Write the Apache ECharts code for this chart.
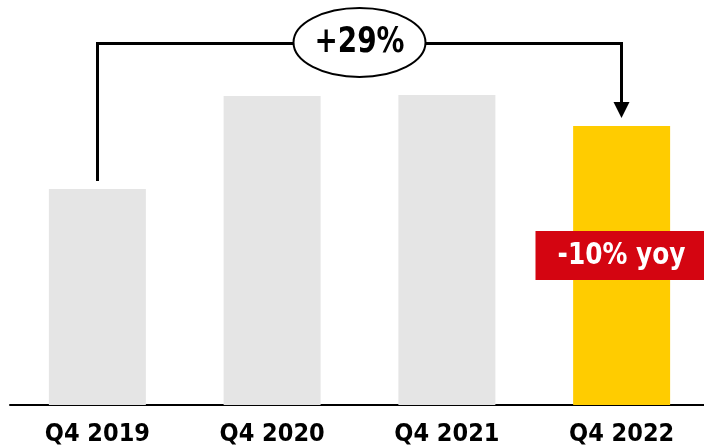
<!DOCTYPE html>
<html><head><meta charset="utf-8">
<script src="https://cdn.jsdelivr.net/npm/echarts@6/dist/echarts.min.js"></script>
<style>html,body{margin:0;padding:0;background:#fff}#c{width:704px;height:446px}</style>
</head><body><div id="c"></div>
<script>
const categories = ['Q4 2019', 'Q4 2020', 'Q4 2021', 'Q4 2022'];
const values = [216, 309, 310, 279];
const barColors = ['#e5e5e5', '#e5e5e5', '#e5e5e5', '#ffcc00'];
const growthLabel = '+29%';
const yoyLabel = '-10% yoy';
const bracketLevel = 362;
const yoyLevel = 149;

const FONT = "'DejaVu Sans Condensed','Liberation Sans',sans-serif";
const chart = echarts.init(document.getElementById('c'), null, {renderer: 'canvas'});
chart.setOption({
  animation: false,
  grid: {left: 10, top: 5, width: 699, height: 400, containLabel: false, outerBoundsMode: 'none'},
  xAxis: {
    type: 'category', data: categories,
    axisLine: {lineStyle: {color: '#000', width: 2}},
    axisTick: {show: false},
    axisLabel: {color: '#000', fontWeight: 'bold', fontSize: 25, fontFamily: FONT, margin: 17}
  },
  yAxis: {type: 'value', min: 0, max: 400, show: false, splitLine: {show: false}},
  series: [{
    type: 'bar', barWidth: '55.5%',
    data: values.map((v, i) => ({value: v, itemStyle: {color: barColors[i]}}))
  }]
});

const p0 = chart.convertToPixel({gridIndex: 0}, [0, values[0]]);
const p3 = chart.convertToPixel({gridIndex: 0}, [3, values[3]]);
const top0 = chart.convertToPixel({gridIndex: 0}, [0, bracketLevel]);
const snap = v => Math.floor(v) + 0.5;
const yb = snap(top0[1]);
const x0 = snap(p0[0]), x3 = snap(p3[0]);
const cx = (x0 + x3) / 2;
const yoyP = chart.convertToPixel({gridIndex: 0}, [3, yoyLevel]);
const lineStyle = {stroke: '#000', lineWidth: 3, fill: null, lineJoin: 'miter'};
chart.setOption({
  graphic: [
    {type: 'polyline', shape: {points: [[x0, p0[1] - 8], [x0, yb], [x3, yb], [x3, p3[1] - 24]]}, style: lineStyle, z: 10},
    {type: 'polygon', shape: {points: [[x3 - 8, p3[1] - 24], [x3 + 8, p3[1] - 24], [x3, p3[1] - 8]]}, style: {fill: '#000'}, z: 10},
    {type: 'ellipse', shape: {cx: cx, cy: yb - 1, rx: 66, ry: 34.5}, style: {fill: '#fff', stroke: '#000', lineWidth: 2}, z: 11},
    {type: 'text', x: cx, y: yb - 1, scaleX: 0.86, style: {text: growthLabel, fill: '#000', font: "bold 36px 'DejaVu Sans Condensed','Liberation Sans',sans-serif", align: 'center', verticalAlign: 'middle'}, z: 12},
    {type: 'rect', shape: {x: x3 - 86, y: yoyP[1] - 25, width: 172, height: 49}, style: {fill: '#d40511'}, z: 11},
    {type: 'text', x: x3, y: yoyP[1], scaleX: 0.92, style: {text: yoyLabel, fill: '#fff', font: "bold 30px 'DejaVu Sans Condensed','Liberation Sans',sans-serif", align: 'center', verticalAlign: 'middle'}, z: 12}
  ]
});
</script></body></html>
